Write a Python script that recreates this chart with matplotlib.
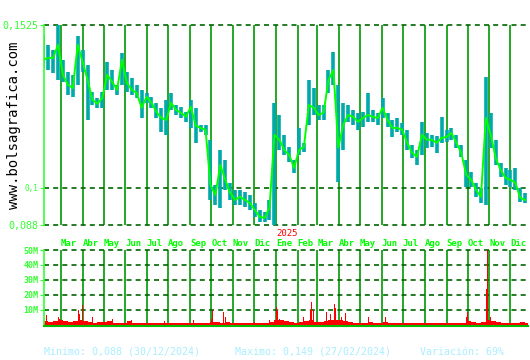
# Gráfico de cotización semanal con volumen (estilo bolsagrafica)
import pandas as pd
import matplotlib.pyplot as plt
import matplotlib.transforms as mtransforms

plt.rcParams['font.family'] = ['DejaVu Sans Mono']

# Datos semanales (lunes) desde feb-2024 a dic-2025
fechas = pd.date_range('2024-02-05', periods=99, freq='W-MON')

cierre = [0.1413, 0.1419, 0.1419, 0.1461, 0.1364, 0.1332, 0.1322, 0.1461, 0.1406, 0.1348,
          0.1284, 0.1271, 0.1290, 0.1364, 0.1342, 0.1316, 0.1413, 0.1338, 0.1316, 0.1306,
          0.1258, 0.1293, 0.1274, 0.1245, 0.1225, 0.1219, 0.1274, 0.1251, 0.1242, 0.1229,
          0.1261, 0.1200, 0.1193, 0.1187, 0.1009, 0.0977, 0.1074, 0.1026, 0.0984, 0.0961,
          0.0971, 0.0961, 0.0951, 0.0929, 0.0906, 0.0903, 0.0935, 0.1171, 0.1155, 0.1122,
          0.1106, 0.1064, 0.1122, 0.1132, 0.1267, 0.1258, 0.1235, 0.1242, 0.1348, 0.1380,
          0.1129, 0.1203, 0.1235, 0.1229, 0.1213, 0.1225, 0.1235, 0.1229, 0.1225, 0.1258,
          0.1219, 0.1193, 0.1193, 0.1187, 0.1145, 0.1113, 0.1100, 0.1171, 0.1155, 0.1155,
          0.1145, 0.1161, 0.1164, 0.1177, 0.1145, 0.1113, 0.1042, 0.1026, 0.0993, 0.0971,
          0.1225, 0.1171, 0.1096, 0.1058, 0.1032, 0.1026, 0.1016, 0.0967, 0.0961]

maximo = [0.1493, 0.1461, 0.1445, 0.1525, 0.1413, 0.1374, 0.1364, 0.1490, 0.1445, 0.1396,
          0.1309, 0.1290, 0.1309, 0.1406, 0.1380, 0.1332, 0.1435, 0.1374, 0.1354, 0.1332,
          0.1316, 0.1306, 0.1293, 0.1274, 0.1258, 0.1284, 0.1306, 0.1267, 0.1261, 0.1245,
          0.1284, 0.1258, 0.1203, 0.1203, 0.1155, 0.1009, 0.1122, 0.1090, 0.1016, 0.0993,
          0.0993, 0.0987, 0.0977, 0.0951, 0.0929, 0.0922, 0.0961, 0.1274, 0.1235, 0.1171,
          0.1132, 0.1090, 0.1193, 0.1145, 0.1348, 0.1322, 0.1267, 0.1267, 0.1380, 0.1438,
          0.1332, 0.1274, 0.1267, 0.1251, 0.1242, 0.1245, 0.1306, 0.1251, 0.1242, 0.1290,
          0.1242, 0.1219, 0.1225, 0.1209, 0.1187, 0.1138, 0.1122, 0.1213, 0.1177, 0.1171,
          0.1167, 0.1229, 0.1187, 0.1193, 0.1171, 0.1138, 0.1090, 0.1051, 0.1016, 0.0999,
          0.1358, 0.1242, 0.1155, 0.1080, 0.1064, 0.1058, 0.1064, 0.0999, 0.0984]

minimo = [0.1387, 0.1380, 0.1371, 0.1348, 0.1342, 0.1300, 0.1293, 0.1332, 0.1374, 0.1219,
          0.1267, 0.1258, 0.1258, 0.1316, 0.1316, 0.1300, 0.1332, 0.1309, 0.1300, 0.1290,
          0.1225, 0.1274, 0.1258, 0.1225, 0.1180, 0.1171, 0.1251, 0.1235, 0.1225, 0.1213,
          0.1193, 0.1145, 0.1180, 0.1171, 0.0961, 0.0945, 0.0935, 0.0993, 0.0961, 0.0945,
          0.0945, 0.0938, 0.0929, 0.0906, 0.0890, 0.0890, 0.0897, 0.0880, 0.1122, 0.1106,
          0.1084, 0.1048, 0.1106, 0.1116, 0.1203, 0.1235, 0.1219, 0.1219, 0.1306, 0.1332,
          0.1019, 0.1122, 0.1213, 0.1203, 0.1187, 0.1196, 0.1213, 0.1213, 0.1203, 0.1225,
          0.1196, 0.1164, 0.1180, 0.1171, 0.1122, 0.1096, 0.1074, 0.1106, 0.1129, 0.1132,
          0.1113, 0.1145, 0.1148, 0.1155, 0.1129, 0.1100, 0.1003, 0.1003, 0.0971, 0.0951,
          0.0945, 0.1129, 0.1074, 0.1035, 0.1009, 0.1003, 0.0993, 0.0955, 0.0951]

# Volumen semanal de fondo (millones)
volumen = [2.5, 2.0, 2.5, 3.0, 2.5, 2.0, 2.5, 3.0, 2.5, 2.0, 1.5, 2.0, 2.0,
           2.5, 1.5, 1.5, 1.5, 2.5, 1.5, 1.5, 1.5, 1.5, 1.5, 1.0, 1.0, 1.5,
           1.0, 1.0, 1.5, 1.0, 1.0, 1.5, 1.0, 1.0, 2.0, 2.0, 1.5, 2.0, 1.5,
           1.5, 1.5, 1.0, 1.5, 1.5, 1.5, 1.5, 2.0, 3.0, 3.0, 2.5, 2.0, 1.5,
           2.0, 2.5, 3.0, 2.0, 2.0, 2.5, 3.5, 3.0, 3.0, 2.5, 2.0, 1.5, 1.5,
           1.5, 2.0, 1.5, 1.0, 2.0, 1.5, 1.0, 1.0, 1.5, 1.0, 1.0, 1.0, 1.5,
           1.0, 1.0, 1.0, 1.0, 1.0, 1.5, 1.0, 1.0, 2.5, 2.0, 1.5, 2.0, 3.0,
           2.5, 2.0, 1.5, 1.5, 1.5, 1.5, 2.0, 1.5]

# Días de volumen destacado (millones)
picos_fechas = pd.to_datetime([
    '2024-02-09', '2024-02-26', '2024-02-28', '2024-03-26', '2024-03-28', '2024-04-01',
    '2024-04-15', '2024-05-10', '2024-05-13', '2024-06-06', '2024-06-10', '2024-07-26',
    '2024-09-06', '2024-10-02', '2024-10-03', '2024-10-18', '2024-10-21', '2024-12-02',
    '2024-12-23', '2025-01-02', '2025-01-03', '2025-01-06', '2025-02-10', '2025-02-19',
    '2025-02-21', '2025-02-24', '2025-03-14', '2025-03-20', '2025-03-26', '2025-03-27',
    '2025-04-01', '2025-04-04', '2025-04-10', '2025-05-13', '2025-06-06', '2025-09-30',
    '2025-10-01', '2025-10-03', '2025-10-28', '2025-10-29', '2025-11-03'])
picos_vol = [6.5, 5, 4, 10, 7, 13,
             5, 11, 4, 14, 3, 2.5,
             3.5, 4, 10, 8.5, 5, 2,
             3, 12, 9.5, 4, 5, 10,
             15, 10, 8.5, 7, 14, 11,
             5, 5, 8, 5, 5.5, 5,
             8.5, 6.5, 24, 50, 5]

meses = pd.date_range('2024-03-01', '2025-12-01', freq='MS')
nombres = ['Ene', 'Feb', 'Mar', 'Abr', 'May', 'Jun', 'Jul', 'Ago', 'Sep', 'Oct', 'Nov', 'Dic']

verde = '#00ff00'
verde_osc = '#006600'
verde_mes = '#009900'
cian = '#00aaaa'
texto = '#aaeeff'

fig = plt.figure(figsize=(5.3, 3.6), dpi=100)
fig.patch.set_facecolor('white')

x0, x1 = pd.Timestamp('2024-02-06'), pd.Timestamp('2025-12-26')

# Panel de precios
ax = fig.add_axes([44 / 530, 1 - 225 / 360, 484 / 530, 200 / 360])
ax.set_xlim(x0, x1)
ax.set_ylim(0.088, 0.1525)
for m in meses:
    ax.axvline(m, color=verde_mes, lw=1.2, zorder=1)
for v in [0.088, 0.1, 0.1525]:
    ax.axhline(v, color=verde_osc, lw=1.2, ls=(0, (3, 2.5)), zorder=1, clip_on=False)
ax.vlines(fechas, minimo, maximo, color=cian, lw=2.6, zorder=2)
ax.plot(fechas, cierre, color=verde, lw=1.4, zorder=3)

ax.set_yticks([0.088, 0.1, 0.1525])
ax.set_yticklabels(['0,088', '0,1', '0,1525'])
for lab, fs in zip(ax.get_yticklabels(), [7.2, 5.5, 7.2]):
    lab.set_fontsize(fs)
    lab.set_color('#33ff33')
ax.tick_params(axis='y', length=3, color='#33ff33', pad=1)
ax.set_xticks([])
for s in ['top', 'right', 'bottom']:
    ax.spines[s].set_visible(False)
ax.spines['left'].set_color('#33ff33')
ax.spines['left'].set_linewidth(1.2)

# Etiquetas de meses y año
trans = mtransforms.blended_transform_factory(ax.transData, ax.transAxes)
for m in meses:
    ax.text(m, -0.09, nombres[m.month - 1], transform=trans, ha='left', va='center',
            fontsize=6.5, color=verde, fontweight='bold')
ax.text(pd.Timestamp('2025-01-01'), -0.04, '2025', transform=trans, ha='left',
        va='center', fontsize=6.5, color='#ff0000')

# Panel de volumen
axv = fig.add_axes([44 / 530, 1 - 326 / 360, 484 / 530, 76 / 360])
axv.set_xlim(x0, x1)
axv.set_ylim(-0.7, 50)
for m in meses:
    axv.axvline(m, color=verde_mes, lw=1.2, zorder=1)
for v in [10, 20, 30, 40, 50]:
    axv.axhline(v, color=verde_osc, lw=1.2, ls=(0, (3, 2.5)), zorder=1, clip_on=False)
axv.bar(fechas, volumen, width=7, align='edge', color='#ff0000', lw=0, zorder=2)
axv.bar(picos_fechas, picos_vol, width=1.3, color='#ff0000', lw=0, zorder=2)
axv.set_yticks([10, 20, 30, 40, 50])
axv.set_yticklabels(['10M', '20M', '30M', '40M', '50M'], fontsize=6,
                    color='#33ff33', fontweight='bold')
axv.tick_params(axis='y', length=3, color='#33ff33', pad=1)
axv.set_xticks([])
for s in ['top', 'right']:
    axv.spines[s].set_visible(False)
axv.spines['left'].set_color('#33ff33')
axv.spines['left'].set_linewidth(1.2)
axv.spines['bottom'].set_color('#00bb00')
axv.spines['bottom'].set_linewidth(1.5)

# Marca de agua y resumen
fig.text(14 / 530, 1 - 125 / 360, 'www.bolsagrafica.com', rotation=90, ha='center',
         va='center', fontsize=10, color='black')
fig.text(44 / 530, 1 - 352 / 360, 'Minimo: 0,088 (30/12/2024)', fontsize=7.2,
         color=texto, va='center')
fig.text(235 / 530, 1 - 352 / 360, 'Maximo: 0,149 (27/02/2024)', fontsize=7.2,
         color=texto, va='center')
fig.text(420 / 530, 1 - 352 / 360, 'Variación: 69%', fontsize=7.2,
         color=texto, va='center')

plt.savefig('out.png', dpi=100)
